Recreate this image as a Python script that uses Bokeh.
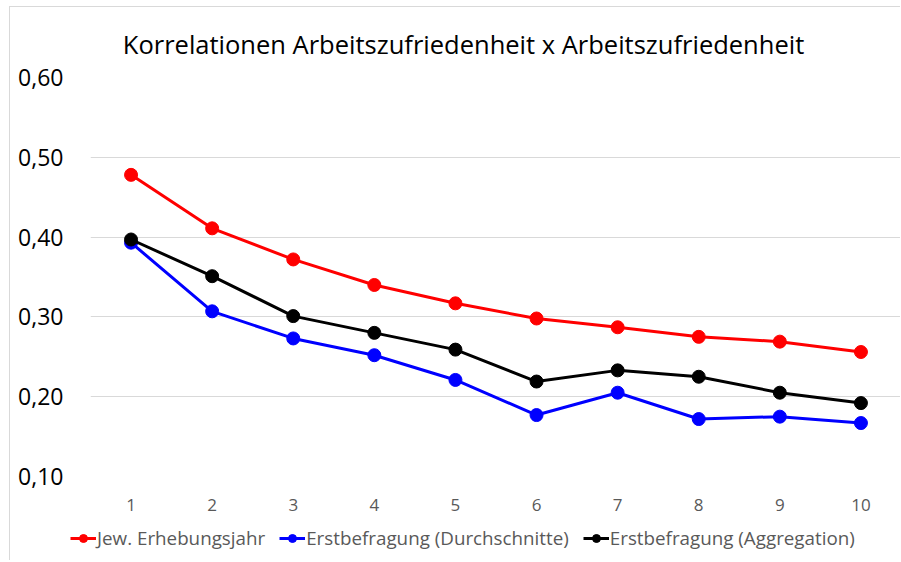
from bokeh.plotting import figure
from bokeh.layouts import column
from bokeh.models import Legend, LegendItem, FixedTicker, Range1d, Label
from bokeh.embed import file_html
from bokeh.resources import INLINE

title_text = "Korrelationen Arbeitszufriedenheit x Arbeitszufriedenheit"
years = [1, 2, 3, 4, 5, 6, 7, 8, 9, 10]
jew_erhebungsjahr = [0.478, 0.411, 0.372, 0.340, 0.317, 0.298, 0.287, 0.275, 0.269, 0.256]
erst_durchschnitte = [0.393, 0.307, 0.273, 0.252, 0.221, 0.177, 0.205, 0.172, 0.175, 0.167]
erst_aggregation = [0.397, 0.351, 0.301, 0.280, 0.259, 0.219, 0.233, 0.225, 0.205, 0.192]
series = [jew_erhebungsjahr, erst_durchschnitte, erst_aggregation]
series_names = ["Jew. Erhebungsjahr", "Erstbefragung (Durchschnitte)", "Erstbefragung (Aggregation)"]
series_colors = ["#FF0000", "#0000FF", "#000000"]
y_ticks = [0.1, 0.2, 0.3, 0.4, 0.5, 0.6]
y_tick_labels = ["0,10", "0,20", "0,30", "0,40", "0,50", "0,60"]

FONT = "Open Sans"
W = 890


def strip(height, **kw):
    f = figure(width=W, height=height, output_backend="svg", toolbar_location=None,
               x_axis_type=None, y_axis_type=None, **kw)
    f.outline_line_color = None
    f.xgrid.grid_line_color = None
    f.ygrid.grid_line_color = None
    return f


# title strip
tf = strip(56, min_border_left=80, min_border_right=0, min_border_top=0, min_border_bottom=0,
           x_range=Range1d(0, 1), y_range=Range1d(0, 1))
tf.add_layout(Label(x=0.4605, y=0.357, text=title_text, text_align="center",
                    text_baseline="alphabetic", text_font=FONT, text_font_size="25.5px",
                    text_color="#000000"))

# main chart
p = figure(width=W, height=463, output_backend="svg", toolbar_location=None,
           x_range=Range1d(0.5, 10.488), y_range=Range1d(0.1, 0.6),
           min_border_left=80, min_border_right=0, min_border_top=14, min_border_bottom=50)
p.outline_line_color = None
p.background_fill_color = "white"
p.border_fill_color = "white"
p.xgrid.grid_line_color = None
p.ygrid.grid_line_color = "#d9d9d9"
p.ygrid.grid_line_width = 1

p.yaxis.ticker = FixedTicker(ticks=y_ticks)
p.yaxis.major_label_overrides = {t: l for t, l in zip(y_ticks, y_tick_labels)}
p.xaxis.ticker = FixedTicker(ticks=years)
for ax in (p.xaxis, p.yaxis):
    ax.axis_line_color = None
    ax.major_tick_line_color = None
    ax.minor_tick_line_color = None
    ax.major_label_text_font = FONT
p.yaxis.major_label_text_font_size = "23px"
p.yaxis.major_label_text_color = "#000000"
p.yaxis.major_label_standoff = 21
p.xaxis.major_label_text_font_size = "17px"
p.xaxis.major_label_text_color = "#595959"
p.xaxis.major_label_standoff = 16

for vals, col in zip(series, series_colors):
    p.line(years, vals, line_color=col, line_width=3)
    p.scatter(years, vals, marker="circle", size=13, fill_color=col, line_color=col)

# legend strip (its own renderers are kept outside the visible range)
lg = strip(34, min_border=0, x_range=Range1d(-1, 0), y_range=Range1d(0, 1))
if hasattr(lg, "frame_align"):
    lg.frame_align = False
items = []
for name, vals, col in zip(series_names, series, series_colors):
    ln = lg.line(years, vals, line_color=col, line_width=3)
    sc = lg.scatter(years, vals, marker="circle", size=11, fill_color=col, line_color=col)
    items.append(LegendItem(label=name, renderers=[ln, sc]))
legend = Legend(items=items, orientation="horizontal", location=(60, 9),
                label_text_font=FONT, label_text_font_size="18.8px", label_text_color="#595959",
                glyph_width=26, glyph_height=20, label_standoff=1, spacing=14,
                padding=0, margin=0, border_line_color=None, background_fill_alpha=0)
lg.add_layout(legend, "center")

layout = column(tf, p, lg, spacing=0, margin=(6, 0, 0, 9),
                styles={"border-left": "1px solid #d9d9d9", "border-top": "1px solid #d9d9d9"})

open("out.html", "w").write(file_html(layout, INLINE))
